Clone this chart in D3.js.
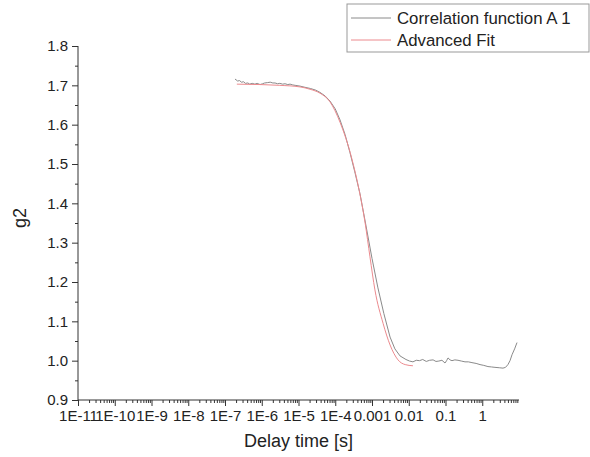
<!DOCTYPE html>
<html>
<head>
<meta charset="utf-8">
<script src="https://cdn.jsdelivr.net/npm/d3@7"></script>
<style>
  body { margin: 0; background: #fff; }
  svg { display: block; font-family: "Liberation Sans", Arial, sans-serif; }
</style>
</head>
<body>
<div id="chart"></div>
<script>
// measured correlation function (tau in s, g2)
var data_tau = [1.87e-7, 2.0e-7, 2.2e-7, 2.5e-7, 2.8e-7, 3.2e-7, 3.6e-7, 4.2e-7, 4.7e-7, 5.5e-7,
    6.5e-7, 7.5e-7, 9e-7, 1.05e-6, 1.2e-6, 1.45e-6, 1.7e-6, 2.0e-6, 2.3e-6, 2.7e-6,
    3.1e-6, 3.7e-6, 4.3e-6, 5.1e-6, 5.9e-6, 7.0e-6, 8.1e-6, 1.1e-5, 1.5e-5, 2.1e-5,
    2.9e-5, 3.85e-5, 5.3e-5, 7.2e-5, 1.0e-4, 1.35e-4, 1.85e-4, 2.5e-4, 3.4e-4, 4.7e-4,
    6.8e-4, 1.0e-3, 1.45e-3, 2.1e-3, 3.1e-3, 4.2e-3, 5.8e-3, 8.4e-3, 0.0105, 0.013,
    0.016, 0.0196, 0.024, 0.030, 0.037, 0.046, 0.055, 0.066, 0.08, 0.097,
    0.107, 0.117, 0.133, 0.150, 0.18, 0.219, 0.27, 0.339, 0.42, 0.525,
    0.68, 0.87, 1.1, 1.43, 1.8, 2.22, 2.9, 3.67, 4.3, 5.0, 5.7, 6.45, 7.6, 8.83]
var data_g2 = [1.716, 1.714, 1.711, 1.712, 1.708, 1.709, 1.705, 1.706, 1.703, 1.705,
    1.703, 1.705, 1.702, 1.704, 1.706, 1.707, 1.708, 1.706, 1.706, 1.704,
    1.705, 1.703, 1.704, 1.702, 1.703, 1.701, 1.700, 1.698, 1.695, 1.692,
    1.688, 1.682, 1.673, 1.660, 1.640, 1.612, 1.575, 1.53, 1.48, 1.425,
    1.345, 1.26, 1.185, 1.12, 1.06, 1.03, 1.012, 1.003, 0.999, 0.997,
    1.001, 1.000, 1.003, 0.998, 1.001, 1.002, 0.998, 0.999, 1.001, 0.994,
    1.000, 1.007, 1.002, 1.000, 1.002, 1.001, 0.999, 0.997, 0.997, 0.995,
    0.993, 0.990, 0.988, 0.985, 0.984, 0.983, 0.982, 0.981, 0.983, 0.990, 1.000, 1.015, 1.030, 1.046]

// advanced fit
var fit_tau = [2.1e-7, 9e-7, 3.1e-6, 1.1e-5, 2.06e-5, 3.85e-5, 7.2e-5, 1.35e-4, 2.8e-4, 4.5e-4,
    6.5e-4, 8.8e-4, 1.2e-3, 2.0e-3, 3.1e-3, 5.1e-3, 8.0e-3, 0.013]
var fit_g2 = [1.703, 1.702, 1.700, 1.696, 1.690, 1.680, 1.658, 1.606, 1.515, 1.432,
    1.35, 1.264, 1.18, 1.095, 1.04, 1.002, 0.990, 0.987]

var x_ticks = [1e-11, 1e-10, 1e-9, 1e-8, 1e-7, 1e-6, 1e-5, 1e-4, 1e-3, 1e-2, 0.1, 1]
var x_labels = ["1E-11", "1E-10", "1E-9", "1E-8", "1E-7", "1E-6", "1E-5", "1E-4", "0.001", "0.01", "0.1", "1"]
var y_ticks = [0.9, 1.0, 1.1, 1.2, 1.3, 1.4, 1.5, 1.6, 1.7, 1.8]
var series_names = ["Correlation function A 1", "Advanced Fit"]
var series_colors = ["#8a8a8a", "#ec8a8e"]

function g2_plot(){
    var width = 590, height = 457

    var svg = d3.select("#chart").append("svg")
        .attr("width", width).attr("height", height)

    var x = d3.scaleLog().domain([1e-11, 10]).range([78, 519])
    var y = d3.scaleLinear().domain([0.9, 1.8]).range([400, 46])

    // minor ticks, 2..9 inside every decade
    var x_minor = []
    for (var i = 0; i < x_ticks.length; i++) {
        for (var k = 2; k < 10; k++) x_minor.push(x_ticks[i] * k)
    }
    var y_minor = d3.range(0, y_ticks.length - 1).map(i => (y_ticks[i] + y_ticks[i + 1]) / 2)

    var axis_color = "#333"

    // x axis
    var gx = svg.append("g").attr("transform", "translate(0," + y(0.9) + ")")
    gx.call(d3.axisBottom(x).tickValues(x_minor).tickSize(3).tickFormat(""))
    gx.select(".domain").remove()
    gx.append("g").call(d3.axisBottom(x).tickValues(x_ticks).tickSize(6).tickPadding(4)
        .tickFormat((d, i) => x_labels[i]))
    gx.selectAll("line").attr("stroke", axis_color)
    gx.selectAll(".domain").attr("stroke", axis_color).attr("d", "M" + x.range()[0] + ",0H" + x.range()[1])
    gx.selectAll("text").attr("fill", "#222").style("font-size", "15px")

    // y axis
    var gy = svg.append("g").attr("transform", "translate(" + x(1e-11) + ",0)")
    gy.call(d3.axisLeft(y).tickValues(y_minor).tickSize(3).tickFormat(""))
    gy.select(".domain").remove()
    gy.append("g").call(d3.axisLeft(y).tickValues(y_ticks).tickSize(6).tickPadding(4)
        .tickFormat(d3.format(".1f")))
    gy.selectAll("line").attr("stroke", axis_color)
    gy.selectAll(".domain").attr("stroke", axis_color).attr("d", "M0," + y.range()[1] + "V" + y.range()[0])
    gy.selectAll("text").attr("fill", "#222").style("font-size", "15px")

    // axis titles
    svg.append("text")
        .attr("x", (x.range()[0] + x.range()[1]) / 2).attr("y", 447)
        .attr("text-anchor", "middle").attr("fill", "#222").style("font-size", "18px")
        .text("Delay time [s]")
    svg.append("text")
        .attr("transform", "translate(26," + ((y.range()[0] + y.range()[1]) / 2 - 5) + ") rotate(-90)")
        .attr("text-anchor", "middle").attr("fill", "#222").style("font-size", "18px")
        .text("g2")

    var line = d3.line().x(d => x(d[0])).y(d => y(d[1]))

    svg.append("path")
        .datum(d3.zip(data_tau, data_g2))
        .attr("fill", "none").attr("stroke", series_colors[0]).attr("stroke-width", 1)
        .attr("d", line)
    svg.append("path")
        .datum(d3.zip(fit_tau, fit_g2))
        .attr("fill", "none").attr("stroke", series_colors[1]).attr("stroke-width", 1)
        .attr("d", line.curve(d3.curveMonotoneX))

    // legend
    var lg = svg.append("g").attr("transform", "translate(347,4)")
    lg.append("rect").attr("width", 242).attr("height", 48)
        .attr("fill", "#fff").attr("stroke", "#999")
    series_names.forEach(function(name, i){
        lg.append("line").attr("x1", 4).attr("x2", 44)
            .attr("y1", 14 + i * 22).attr("y2", 14 + i * 22)
            .attr("stroke", series_colors[i])
        lg.append("text").attr("x", 50).attr("y", 14 + i * 22)
            .attr("dy", "0.35em").attr("fill", "#222").style("font-size", "16.8px")
            .text(name)
    })
}
g2_plot()
</script>
</body>
</html>
